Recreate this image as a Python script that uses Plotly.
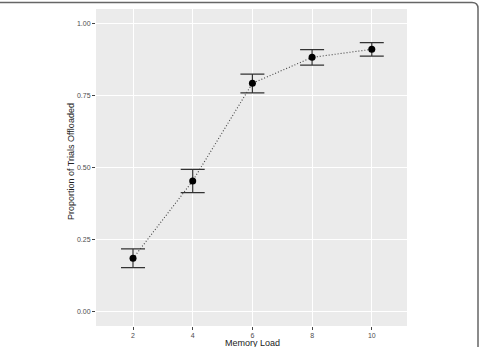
import plotly.graph_objects as go

memory_load = [2, 4, 6, 8, 10]
proportion = [0.185, 0.454, 0.793, 0.883, 0.911]
err_upper = [0.218, 0.494, 0.825, 0.910, 0.934]
err_lower = [0.153, 0.413, 0.760, 0.856, 0.887]
x_ticks = [2, 4, 6, 8, 10]
y_ticks = [0.0, 0.25, 0.5, 0.75, 1.0]
y_tick_labels = ["0.00", "0.25", "0.50", "0.75", "1.00"]

plus = [u - p for u, p in zip(err_upper, proportion)]
minus = [p - l for p, l in zip(proportion, err_lower)]

W, H = 480, 347
L, R, T, B = 96, 73, 9, 21
pw, ph = W - L - R, H - T - B

fig = go.Figure()
fig.add_trace(go.Scatter(
    x=memory_load, y=proportion, mode="lines",
    line=dict(color="#444444", width=1.1, dash="1px,2px"),
    showlegend=False, hoverinfo="skip"))
fig.add_trace(go.Scatter(
    x=memory_load, y=proportion, mode="markers",
    marker=dict(color="black", size=7),
    error_y=dict(type="data", symmetric=False, array=plus, arrayminus=minus,
                 color="#333333", thickness=1.2, width=12),
    showlegend=False))

def px(x):
    return (x - L) / pw

def py(y):
    return (H - B - y) / ph

x0, x1, yt, yb, r = px(0), px(478), py(2.5), py(347), 6
path = (f"M {x0},{yt} L {px(478 - r)},{yt} Q {x1},{yt} {x1},{py(2.5 + r)} L {x1},{yb}")
fig.add_shape(type="path", path=path, xref="paper", yref="paper",
              line=dict(color="#666666", width=1.5), layer="above")

fig.add_annotation(text="Memory Load", xref="paper", yref="paper",
                   x=px(252), y=py(335.5), xanchor="center", yanchor="top",
                   showarrow=False, font=dict(size=9, color="#222222"))
fig.add_annotation(text="Proportion of Trials Offloaded", xref="paper", yref="paper",
                   x=px(71), y=py(162), xanchor="center", yanchor="middle", textangle=-90,
                   showarrow=False, font=dict(size=9, color="#222222"))

axis_common = dict(showline=False, zeroline=False, gridcolor="white", gridwidth=1.1,
                   ticks="outside", ticklen=3, tickwidth=1, tickcolor="#444444",
                   tickfont=dict(size=7, color="#4d4d4d"), automargin=False)

fig.update_layout(
    width=W, height=H,
    margin=dict(l=L, r=R, t=T, b=B),
    paper_bgcolor="white", plot_bgcolor="#ebebeb",
    font=dict(family="Liberation Sans, Arial, sans-serif"),
    xaxis=dict(range=[0.76, 11.18], tickvals=x_ticks, ticktext=[str(v) for v in x_ticks],
               **axis_common),
    yaxis=dict(range=[-0.05, 1.051], tickvals=y_ticks, ticktext=y_tick_labels,
               **axis_common),
)

fig.write_html("out.html")
